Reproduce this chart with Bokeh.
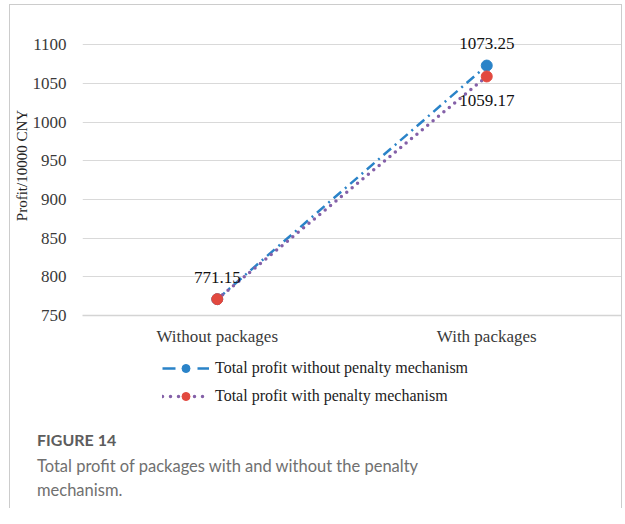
from bokeh.plotting import figure
from bokeh.models import (ColumnDataSource, Range1d, FactorRange, Legend, LegendItem, Div, LabelSet)
from bokeh.layouts import column
from bokeh.core.properties import value
from bokeh.embed import file_html
from bokeh.resources import INLINE

# ---- data ----
categories = ["Without packages", "With packages"]
profit_no_penalty = [771.15, 1073.25]
profit_with_penalty = [771.15, 1059.17]
y_ticks = [750, 800, 850, 900, 950, 1000, 1050, 1100]
series_names = ["Total profit without penalty mechanism",
                "Total profit with penalty mechanism"]
caption_title = "FIGURE 14"
caption_text = "Total profit of packages with and without the penalty<br>mechanism."

BLUE = "#2a83c8"
RED = "#e2493f"
PURPLE = "#8460a8"
SERIF = "Liberation Serif"
W = 611

src_a = ColumnDataSource(dict(x=categories, y=profit_no_penalty,
                              t=[f"{v:.2f}" for v in profit_no_penalty]))
src_b = ColumnDataSource(dict(x=categories, y=profit_with_penalty))
src_b_lab = ColumnDataSource(dict(x=categories[1:], y=profit_with_penalty[1:],
                                  t=[f"{v:.2f}" for v in profit_with_penalty[1:]]))

p = figure(x_range=FactorRange(*categories), y_range=Range1d(750, 1138),
           width=W, height=345, output_backend="svg", toolbar_location=None,
           min_border_left=60, min_border_right=0, min_border_top=10, min_border_bottom=35)
p.outline_line_color = None
p.background_fill_color = None
p.border_fill_color = None
p.xgrid.visible = False
p.ygrid.grid_line_color = "#d9d9d9"
p.ygrid.grid_line_width = 1.2
p.yaxis.ticker = y_ticks
p.yaxis.axis_line_color = None
p.yaxis.major_tick_line_color = None
p.yaxis.minor_tick_line_color = None
p.yaxis.major_label_standoff = 10
p.yaxis.major_label_text_font = SERIF
p.yaxis.major_label_text_font_size = "17px"
p.yaxis.major_label_text_color = "#3a3a3a"
p.yaxis.axis_label = "Profit/10000 CNY"
p.yaxis.axis_label_text_font = SERIF
p.yaxis.axis_label_text_font_size = "15px"
p.yaxis.axis_label_text_font_style = "normal"
p.yaxis.axis_label_text_color = "#222222"
p.yaxis.axis_label_standoff = 0
p.xaxis.axis_line_color = "#d4d4d4"
p.xaxis.axis_line_width = 1.5
p.xaxis.major_tick_line_color = None
p.xaxis.minor_tick_line_color = None
p.xaxis.major_label_standoff = 5
p.xaxis.major_label_text_font = SERIF
p.xaxis.major_label_text_font_size = "17px"
p.xaxis.major_label_text_color = "#3a3a3a"

p.line("x", "y", source=src_a, line_color=BLUE, line_width=2.5, line_dash="10 5 2 5")
p.line("x", "y", source=src_b, line_color=PURPLE, line_width=3.5, line_dash="0 7", line_cap="round")
p.scatter("x", "y", source=src_a, size=11, fill_color=BLUE, line_color=BLUE)
p.scatter("x", "y", source=src_b, size=11, fill_color=RED, line_color=RED)

p.add_layout(LabelSet(x="x", y="y", text="t", source=src_a, y_offset=22, text_align="center",
                      text_baseline="middle", text_font=value(SERIF), text_font_size=value("17px"),
                      text_color="#111111"))
p.add_layout(LabelSet(x="x", y="y", text="t", source=src_b_lab, y_offset=-24, text_align="center",
                      text_baseline="middle", text_font=value(SERIF), text_font_size=value("17px"),
                      text_color="#111111"))

# legend figure
f2 = figure(width=W, height=70, output_backend="svg", toolbar_location=None,
            x_range=Range1d(0, 1), y_range=Range1d(0, 1), x_axis_type=None, y_axis_type=None,
            min_border=0)
f2.outline_line_color = None
f2.background_fill_color = None
f2.border_fill_color = None
f2.grid.visible = False
off = [-10, -9]
la = f2.line(x=off, y=off, line_color=BLUE, line_width=2.5, line_dash="13 22")
sa = f2.scatter(x=off, y=off, size=11, fill_color=BLUE, line_color=BLUE)
lb = f2.line(x=off, y=off, line_color=PURPLE, line_width=3.5, line_dash="0 8", line_cap="round")
sb = f2.scatter(x=off, y=off, size=11, fill_color=RED, line_color=RED)
leg = Legend(items=[LegendItem(label=series_names[0], renderers=[la, sa]),
                    LegendItem(label=series_names[1], renderers=[lb, sb])],
             location=(80, 14), orientation="vertical")
leg.glyph_width = 47
leg.glyph_height = 20
leg.spacing = 8
leg.padding = 9
leg.margin = 0
leg.label_standoff = 6
leg.border_line_color = None
leg.background_fill_alpha = 0
leg.label_text_font = SERIF
leg.label_text_font_size = "16px"
leg.label_text_color = "#222222"
f2.add_layout(leg)

cap = Div(text=(f'<div style="font-family:Lato;font-weight:bold;font-size:16px;color:#5d5d5d;'
                f'line-height:24px;margin-top:8px">{caption_title}</div>'
                f'<div style="font-family:Lato;font-size:16.5px;color:#707070;line-height:24px;'
                f'margin-top:2px">{caption_text}</div>'),
          width=580, height=88, margin=0, styles={"padding-left": "27px"})

layout = column(p, f2, cap, styles={"margin-left": "9px", "margin-top": "4px",
                                    "border-left": "1.5px solid #cccccc",
                                    "border-top": "1.5px solid #cccccc",
                                    "border-right": "1.5px solid #cccccc"})

open("out.html", "w").write(file_html(layout, INLINE))
